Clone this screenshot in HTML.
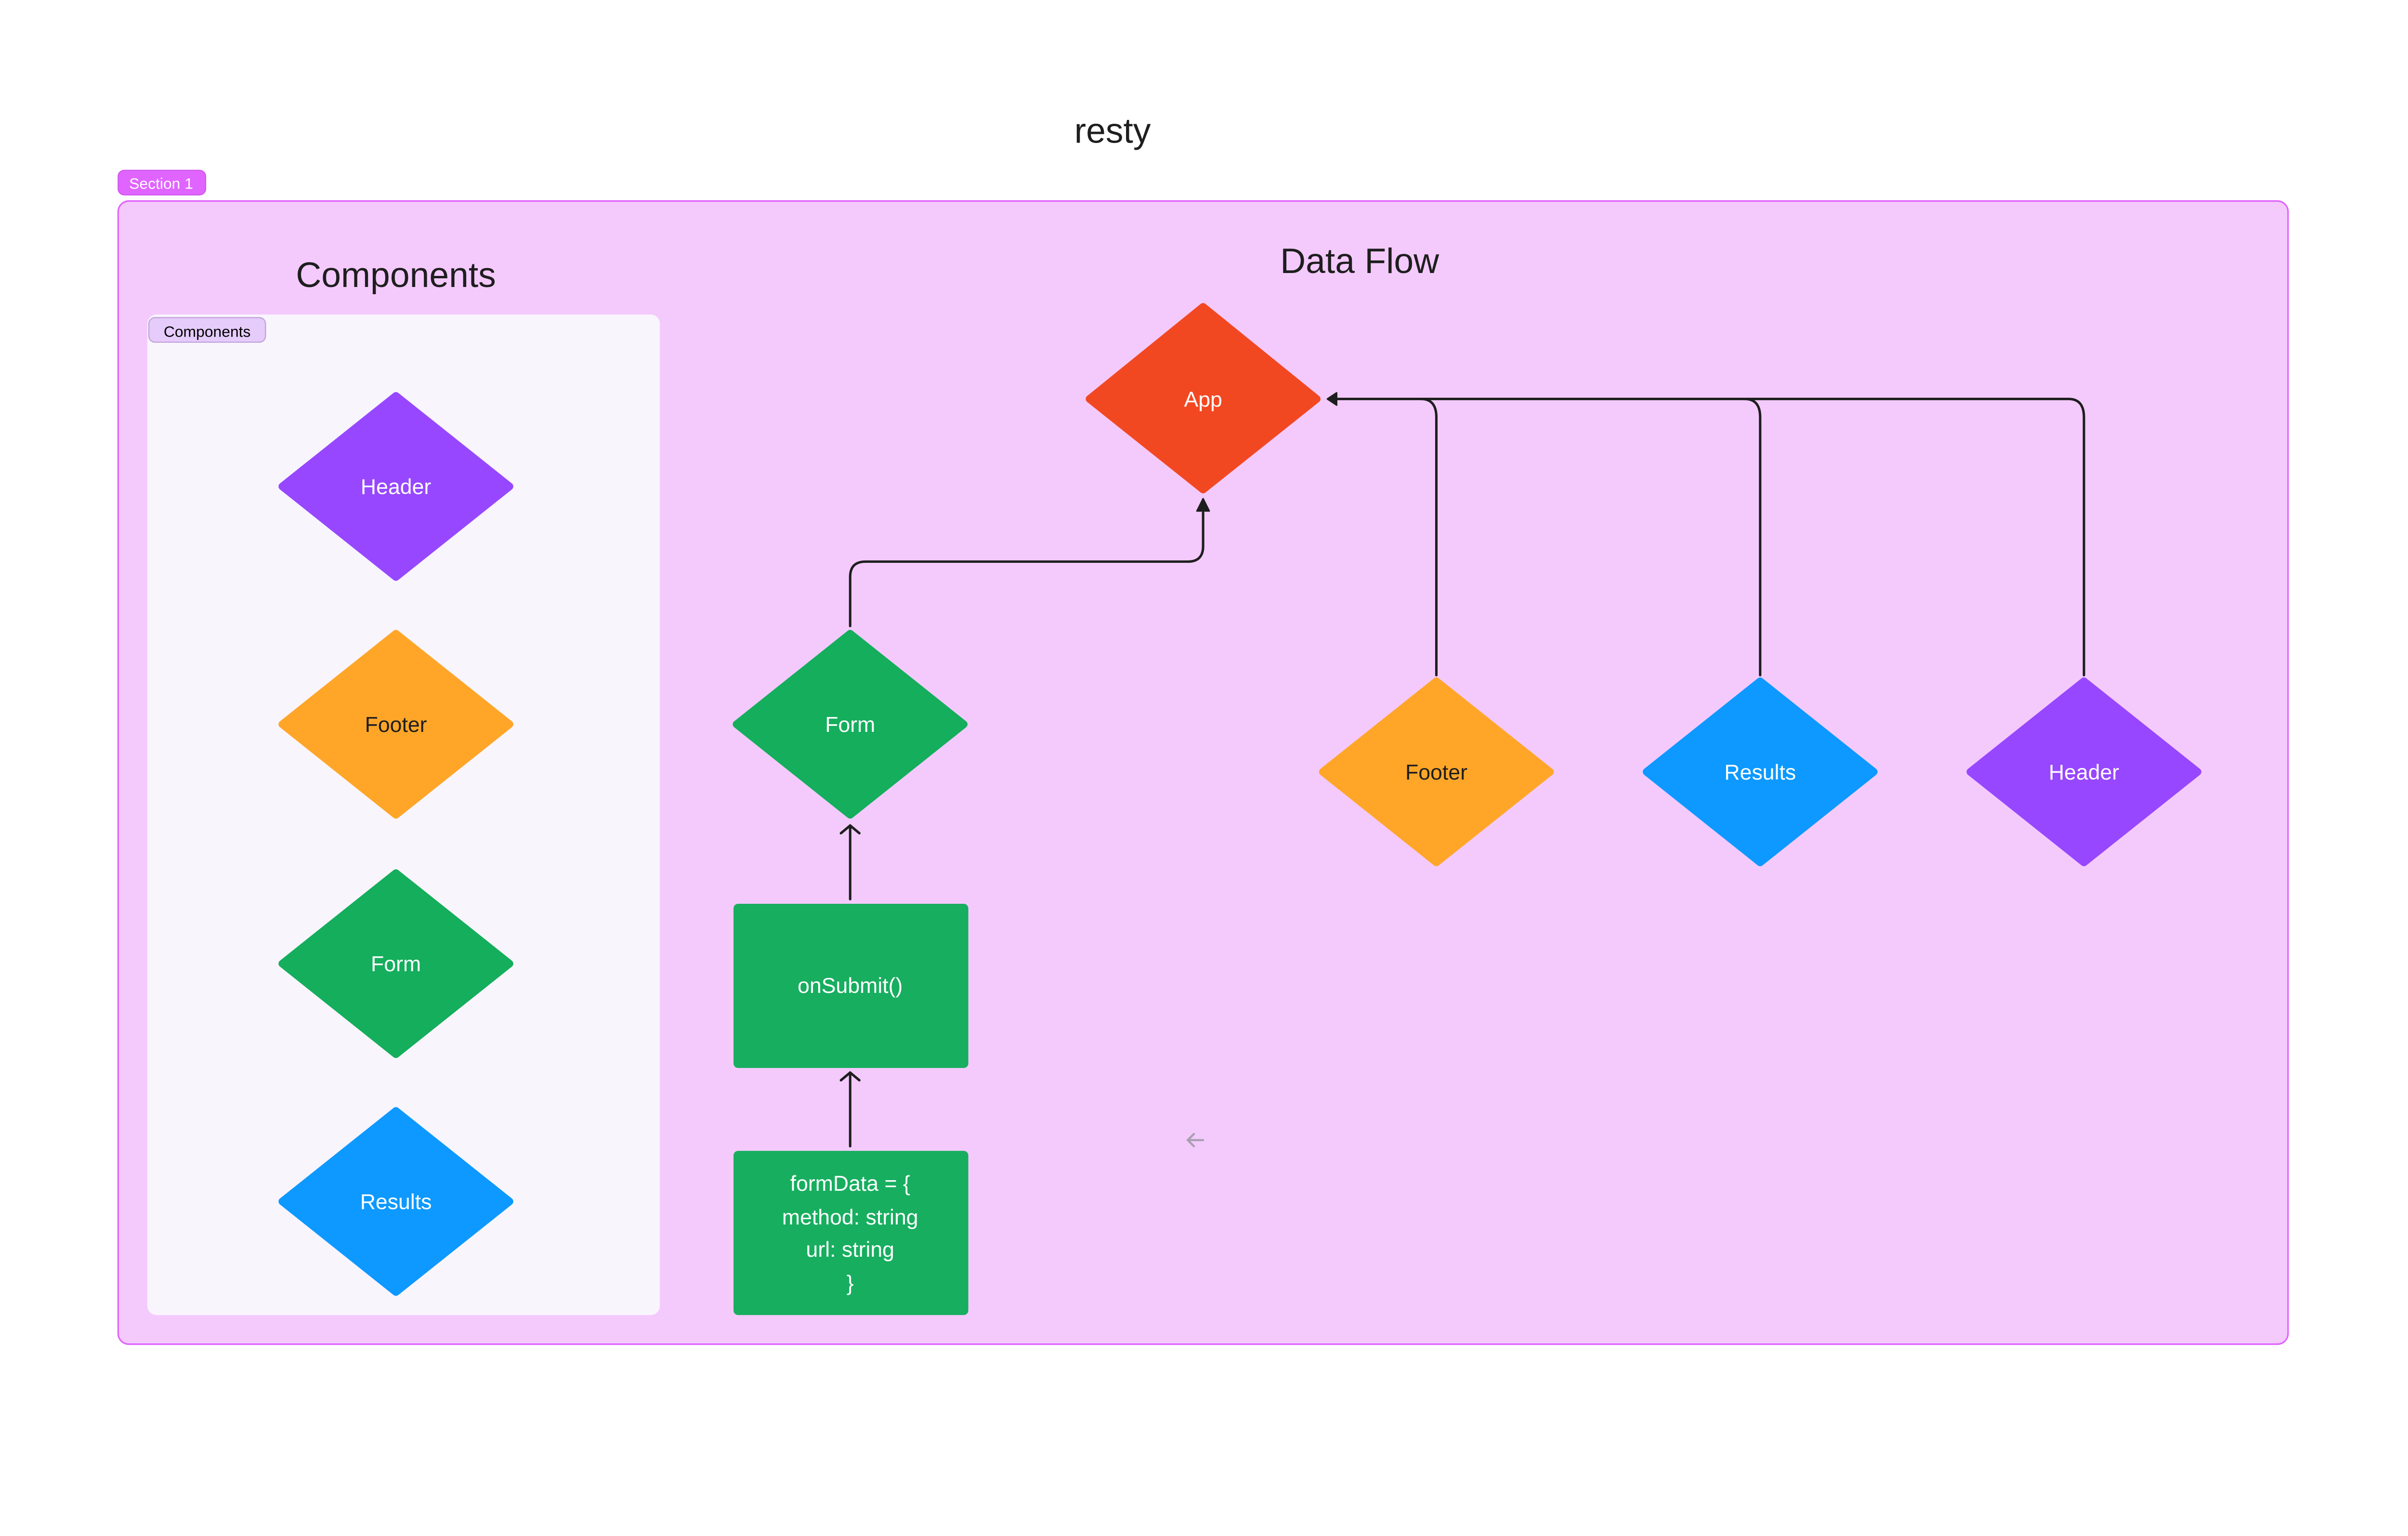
<!DOCTYPE html>
<html><head><meta charset="utf-8"><style>
html,body{margin:0;padding:0;background:#fff;}
svg{display:block;}
text{font-family:"Liberation Sans",sans-serif;}
</style></head><body>
<svg width="5248" height="3190" viewBox="0 0 1647 1001" preserveAspectRatio="none" xmlns="http://www.w3.org/2000/svg">
<rect width="1647" height="1001" fill="#ffffff"/>
<text x="725" y="93" font-size="23" text-anchor="middle" fill="#1e1e1e">resty</text>
<rect x="77" y="111" width="57" height="16" rx="4" fill="#e064ff" stroke="#cf55ee" stroke-width="0.7"/>
<text x="105" y="123" font-size="10" text-anchor="middle" fill="#fff">Section 1</text>
<rect x="77" y="131" width="1414" height="745" rx="7" fill="#f4cafd" stroke="#e064ff" stroke-width="1"/>
<text x="258" y="187" font-size="23" text-anchor="middle" fill="#1e1e1e">Components</text>
<rect x="96" y="205" width="334" height="652" rx="6" fill="#f9f5fd"/>
<rect x="97" y="207" width="76" height="16" rx="4" fill="#e6ccfb" stroke="#c5a6dc" stroke-width="0.8"/>
<text x="135" y="219.5" font-size="10" text-anchor="middle" fill="#000">Components</text>
<text x="886" y="178" font-size="23" text-anchor="middle" fill="#1e1e1e">Data Flow</text>

<g stroke-linejoin="round" stroke-width="5">
<polygon points="258,258 332,317 258,376 184,317" fill="#9747ff" stroke="#9747ff"/>
<polygon points="258,413 332,472 258,531 184,472" fill="#ffa629" stroke="#ffa629"/>
<polygon points="258,569 332,628 258,687 184,628" fill="#14ae5c" stroke="#14ae5c"/>
<polygon points="258,724 332,783 258,842 184,783" fill="#0d99ff" stroke="#0d99ff"/>
<polygon points="784,200 858,260 784,319 710,260" fill="#f24822" stroke="#f24822"/>
<polygon points="554,413 628,472 554,531 480,472" fill="#14ae5c" stroke="#14ae5c"/>
<polygon points="936,444 1010,503 936,562 862,503" fill="#ffa629" stroke="#ffa629"/>
<polygon points="1147,444 1221,503 1147,562 1073,503" fill="#0d99ff" stroke="#0d99ff"/>
<polygon points="1358,444 1432,503 1358,562 1284,503" fill="#9747ff" stroke="#9747ff"/>
</g>
<rect x="478" y="589" width="153" height="107" rx="3" fill="#17ae5f"/>
<rect x="478" y="750" width="153" height="107" rx="3" fill="#17ae5f"/>

<g font-size="14" fill="#fff" text-anchor="middle">
<text x="258" y="322">Header</text>
<text x="258" y="633">Form</text>
<text x="258" y="788">Results</text>
<text x="784" y="265">App</text>
<text x="554" y="477">Form</text>
<text x="1147" y="508">Results</text>
<text x="1358" y="508">Header</text>
<text x="554" y="647">onSubmit()</text>
<text x="554" y="776">formData = {</text>
<text x="554" y="798">method: string</text>
<text x="554" y="819">url: string</text>
<text x="554" y="841">}</text>
</g>
<g font-size="14" fill="#1e1e1e" text-anchor="middle">
<text x="258" y="477">Footer</text>
<text x="936" y="508">Footer</text>
</g>

<g fill="none" stroke="#1e1e1e" stroke-width="1.6" stroke-linecap="round">
<path d="M554,408 V376 Q554,366 564,366 H774 Q784,366 784,356 V334"/>
<path d="M554,586 V538 M548,543 L554,538 L560,543"/>
<path d="M554,747 V699 M548,704 L554,699 L560,704"/>
<path d="M870,260 H1348 Q1358,260 1358,272 V440"/>
<path d="M926,260 Q936,260 936,272 V440"/>
<path d="M1137,260 Q1147,260 1147,272 V440"/>
</g>
<polygon points="784,325 788,333 780,333" fill="#1e1e1e" stroke="#1e1e1e" stroke-linejoin="round"/>
<polygon points="865,260 871,256 871,264" fill="#1e1e1e" stroke="#1e1e1e" stroke-linejoin="round"/>
<path d="M784,743 H774 M778,739 L774,743 L778,747" fill="none" stroke="#a8a0b0" stroke-width="1.4" stroke-linecap="round"/>
</svg>
</body></html>
